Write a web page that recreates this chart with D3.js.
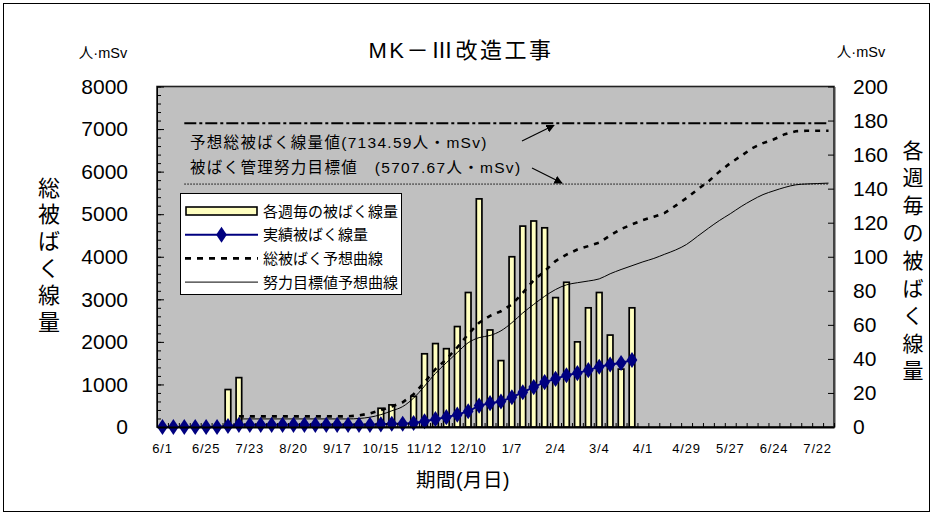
<!DOCTYPE html>
<html>
<head>
<meta charset="utf-8">
<script src="https://cdn.jsdelivr.net/npm/d3@7"></script>
<style>
  body { margin: 0; background: #fff; }
  svg { display: block; }
  text { font-family: "Liberation Sans", "Noto Sans CJK JP", sans-serif; fill: #000; }
</style>
</head>
<body>
<svg id="chart" width="938" height="523"></svg>
<script>
// Week labels shown under every 4th weekly slot
const weekLabels = ["6/1","6/25","7/23","8/20","9/17","10/15","11/12","12/10",
                    "1/7","2/4","3/4","4/1","4/29","5/27","6/24","7/22"];
const weekIndex = d3.range(62);

// Weekly dose (right axis, 人・mSv)
const weeklyDose = [
  null,null,null,null,null,null, 22,29,
  null,null,null,null,null,null,null,null,null,null,null,null,
  11,13,null,18,43,49,46,59,79,134,57,39,100,118,121,117,76,85,50,70,79,54,34,70,
  null,null,null,null,null,null,null,null,null,null,null,null,null,null,null,null,null,null
];

// Actual cumulative dose (left axis)
const cumulativeDose = [
  0,0,0,0,0,0, 22,51,
  51,51,51,51,51,51,51,51,51,51,51,51,
  62,75,75,93,136,185,231,290,369,503,560,599,699,817,938,1055,1131,1216,1266,1336,1415,1469,1503,1573,
  null,null,null,null,null,null,null,null,null,null,null,null,null,null,null,null,null,null
];

// Forecast of total dose (dashed curve, left axis)
const forecastTotal = [
  null,null,null,null,null,null,null, 250,
  250,250,250,250,250,250,250,250,250,250,270,320,
  400,480,580,770,1050,1360,1590,1870,2180,2450,2610,2720,2880,3150,3450,3660,3900,4050,4170,4250,4330,4500,4650,4760,
  4860,4940,5030,5200,5380,5580,5770,6000,6200,6370,6550,6670,6760,6880,6950,6960,6960,6960
];

// Forecast following the reduction target (thin curve, left axis)
const forecastTarget = [
  null,null,null,null,null,null,null, 190,
  190,190,190,190,190,190,190,190,190,190,200,230,
  290,380,480,680,960,1260,1510,1750,1980,2100,2150,2260,2450,2680,2880,3070,3230,3340,3390,3430,3480,3600,3700,3790,
  3880,3960,4060,4160,4290,4480,4670,4850,5010,5180,5330,5460,5550,5630,5690,5710,5720,5730
];

const leftTicks = [0,1000,2000,3000,4000,5000,6000,7000,8000];
const rightTicks = [0,20,40,60,80,100,120,140,160,180,200];

const refNames = ["予想総被ばく線量値(7134.59人・mSv)", "被ばく管理努力目標値\u3000(5707.67人・mSv)"];
const refValues = [7134.59, 5707.67];

const legendNames = ["各週毎の被ばく線量","実績被ばく線量","総被ばく予想曲線","努力目標値予想曲線"];

// ---- layout ----
const W = 938, H = 523;
const plot = { left: 157, right: 834, top: 86.5, bottom: 427 };

const svg = d3.select("#chart");

// outer frame
svg.append("rect").attr("x", 3.5).attr("y", 3.5).attr("width", 926).attr("height", 508)
  .attr("fill", "#fff").attr("stroke", "#000").attr("stroke-width", 1);

const x = d3.scaleBand().domain(weekIndex).range([plot.left, plot.right]);
const xEdge = d3.scaleLinear().domain([0, weekIndex.length]).range([plot.left, plot.right]);
const yL = d3.scaleLinear().domain([0, 8000]).range([plot.bottom, plot.top]);
const yR = d3.scaleLinear().domain([0, 200]).range([plot.bottom, plot.top]);
const cx = i => x(i) + x.bandwidth() / 2;

// plot background
svg.append("rect")
  .attr("x", plot.left).attr("y", plot.top)
  .attr("width", plot.right - plot.left).attr("height", plot.bottom - plot.top)
  .attr("fill", "#c0c0c0").attr("stroke", "#222").attr("stroke-width", 1.6);

// weekly bars
svg.append("g").selectAll("rect")
  .data(weekIndex.filter(i => weeklyDose[i] != null && weeklyDose[i] > 0))
  .join("rect")
  .attr("x", i => cx(i) - 2.8)
  .attr("width", 5.6)
  .attr("y", i => yR(weeklyDose[i]))
  .attr("height", i => yR(0) - yR(weeklyDose[i]))
  .attr("fill", "#ffffc0").attr("stroke", "#000").attr("stroke-width", 1.7);

// reference lines
const refX0 = cx(2), refX1 = cx(61);
svg.append("line").attr("x1", refX0).attr("x2", refX1)
  .attr("y1", yL(refValues[0])).attr("y2", yL(refValues[0]))
  .attr("stroke", "#000").attr("stroke-width", 2).attr("stroke-dasharray", "12,3,3,3");
svg.append("line").attr("x1", refX0).attr("x2", refX1)
  .attr("y1", yL(refValues[1])).attr("y2", yL(refValues[1]))
  .attr("stroke", "#000").attr("stroke-width", 1).attr("stroke-dasharray", "1.5,1.5");

// forecast curves
const lineOf = (arr, curve) => d3.line()
  .defined(i => arr[i] != null)
  .x(i => cx(i)).y(i => yL(arr[i]))
  .curve(curve)(weekIndex);

svg.append("path").attr("d", lineOf(forecastTarget, d3.curveMonotoneX))
  .attr("fill", "none").attr("stroke", "#000").attr("stroke-width", 1);
svg.append("path").attr("d", lineOf(forecastTotal, d3.curveLinear))
  .attr("fill", "none").attr("stroke", "#000").attr("stroke-width", 2.6)
  .attr("stroke-dasharray", "5,6");

// actual cumulative line with diamond markers
const navy = "#000080";
const diamond = d3.symbol().type(d3.symbolDiamond).size(75);
svg.append("path").attr("d", lineOf(cumulativeDose, d3.curveLinear))
  .attr("fill", "none").attr("stroke", navy).attr("stroke-width", 2);
svg.append("g").selectAll("path")
  .data(weekIndex.filter(i => cumulativeDose[i] != null))
  .join("path")
  .attr("transform", i => `translate(${cx(i)},${yL(cumulativeDose[i])}) scale(1.15,1)`)
  .attr("d", diamond).attr("fill", navy);

// ---- axes ----
const axisStyle = g => {
  g.select(".domain").attr("stroke", "#000");
  g.selectAll(".tick line").attr("stroke", "#000");
};

// left: minor and major ticks pointing inward
svg.append("g").attr("transform", `translate(${plot.left},0)`)
  .call(d3.axisLeft(yL).tickValues(d3.range(0, 8001, 200)).tickSizeInner(-4).tickSizeOuter(0).tickFormat(""))
  .call(axisStyle);
svg.append("g").attr("transform", `translate(${plot.left},0)`)
  .call(d3.axisLeft(yL).tickValues(leftTicks).tickSizeInner(-7).tickSizeOuter(0).tickPadding(29)
        .tickFormat(d3.format("d")))
  .call(axisStyle)
  .call(g => g.selectAll("text").attr("font-size", 21));

// right
svg.append("g").attr("transform", `translate(${plot.right},0)`)
  .call(d3.axisRight(yR).tickValues(rightTicks).tickSizeInner(-6).tickSizeOuter(0).tickPadding(19)
        .tickFormat(d3.format("d")))
  .call(axisStyle)
  .call(g => g.select(".domain").attr("stroke", "#444").attr("stroke-width", 2))
  .call(g => g.selectAll("text").attr("font-size", 21));

// bottom: tick at each week boundary, labels every 4 weeks
svg.append("g").attr("transform", `translate(0,${plot.bottom})`)
  .call(d3.axisBottom(xEdge).tickValues(d3.range(0, weekIndex.length + 1)).tickSizeInner(-4).tickSizeOuter(0).tickFormat(""))
  .call(axisStyle)
  .call(g => g.select(".domain").attr("stroke-width", 2));
svg.append("g").attr("transform", `translate(0,${plot.bottom})`)
  .call(d3.axisBottom(x).tickValues(weekLabels.map((_, k) => k * 4)).tickSize(0).tickPadding(17)
        .tickFormat(i => weekLabels[i / 4]))
  .call(g => g.select(".domain").remove())
  .call(g => g.selectAll("text").attr("font-size", 13).attr("letter-spacing", 0.8));

// ---- titles ----
svg.append("text").attr("x", 461).attr("y", 58).attr("text-anchor", "middle")
  .attr("font-size", 22).attr("letter-spacing", 2.5).text("MK－Ⅲ改造工事");

svg.append("text").attr("x", 103).attr("y", 58).attr("text-anchor", "middle")
  .attr("font-size", 14.5).text("人·mSv");
svg.append("text").attr("x", 861).attr("y", 57).attr("text-anchor", "middle")
  .attr("font-size", 14.5).text("人·mSv");

const vertical = (chars, xc, y0, step, size) => {
  const g = svg.append("g");
  Array.from(chars).forEach((c, k) => {
    g.append("text").attr("x", xc).attr("y", y0 + k * step)
      .attr("text-anchor", "middle").attr("dominant-baseline", "central")
      .attr("font-size", size).text(c);
  });
};
vertical("総被ばく線量", 49, 188, 26.8, 22);
vertical("各週毎の被ばく線量", 913, 150, 27.6, 21);

svg.append("text").attr("x", 463).attr("y", 487).attr("text-anchor", "middle")
  .attr("font-size", 19.5).attr("letter-spacing", 0.5).text("期間(月日)");

// ---- reference annotations ----
svg.append("text").attr("x", 190).attr("y", 148).attr("font-size", 15.5)
  .attr("letter-spacing", 1.3).text(refNames[0]);
svg.append("text").attr("x", 190).attr("y", 173).attr("font-size", 15.5)
  .attr("letter-spacing", 1.3).text(refNames[1]);

const defs = svg.append("defs");
defs.append("marker").attr("id", "arrow").attr("viewBox", "0 0 10 10")
  .attr("refX", 9).attr("refY", 5).attr("markerWidth", 7).attr("markerHeight", 7)
  .attr("orient", "auto")
  .append("path").attr("d", "M0,0L10,5L0,10Z").attr("fill", "#000");

svg.append("line").attr("x1", 522).attr("y1", 141).attr("x2", 554).attr("y2", yL(refValues[0]) + 2)
  .attr("stroke", "#000").attr("stroke-width", 1.2).attr("marker-end", "url(#arrow)");
svg.append("line").attr("x1", 532).attr("y1", 168).attr("x2", 562).attr("y2", yL(refValues[1]) - 1)
  .attr("stroke", "#000").attr("stroke-width", 1.2).attr("marker-end", "url(#arrow)");

// ---- legend ----
const lg = svg.append("g");
lg.append("rect").attr("x", 180.5).attr("y", 193.5).attr("width", 221).attr("height", 101)
  .attr("fill", "#fff").attr("stroke", "#000").attr("stroke-width", 1);
const rowY = k => 211 + k * 23.7;
const sx0 = 185, sx1 = 258;
lg.append("rect").attr("x", sx0 + 1).attr("y", rowY(0) - 4).attr("width", sx1 - sx0 - 2).attr("height", 8)
  .attr("fill", "#ffffc0").attr("stroke", "#000").attr("stroke-width", 1.6);
lg.append("line").attr("x1", sx0).attr("x2", sx1).attr("y1", rowY(1)).attr("y2", rowY(1))
  .attr("stroke", navy).attr("stroke-width", 2);
lg.append("path").attr("transform", `translate(${(sx0 + sx1) / 2},${rowY(1)}) scale(1.15,1)`)
  .attr("d", diamond).attr("fill", navy);
lg.append("line").attr("x1", sx0).attr("x2", sx1).attr("y1", rowY(2)).attr("y2", rowY(2))
  .attr("stroke", "#000").attr("stroke-width", 2.6).attr("stroke-dasharray", "6,6");
lg.append("line").attr("x1", sx0).attr("x2", sx1).attr("y1", rowY(3)).attr("y2", rowY(3))
  .attr("stroke", "#000").attr("stroke-width", 1);
legendNames.forEach((name, k) => {
  lg.append("text").attr("x", 263).attr("y", rowY(k)).attr("dominant-baseline", "central")
    .attr("font-size", 15).text(name);
});
</script>
</body>
</html>
